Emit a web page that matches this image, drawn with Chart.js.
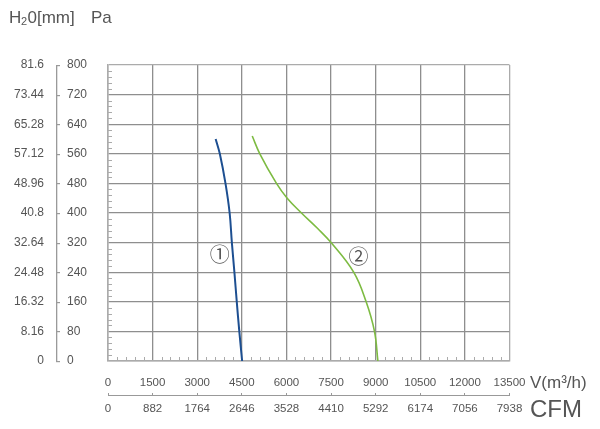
<!DOCTYPE html>
<html>
<head>
<meta charset="utf-8">
<script src="https://cdn.jsdelivr.net/npm/chart.js@4"></script>
<style>
  html, body { margin: 0; padding: 0; background: #fff; }
  #wrap { width: 600px; height: 429px; }
</style>
</head>
<body>
<div id="wrap"><canvas id="curva" width="600" height="429"></canvas></div>
<script>
// tick labels
const paTicks = [0, 80, 160, 240, 320, 400, 480, 560, 640, 720, 800];
const mmTicks = ["0", "8.16", "16.32", "24.48", "32.64", "40.8", "48.96", "57.12", "65.28", "73.44", "81.6"];
const flowTicks = [0, 1500, 3000, 4500, 6000, 7500, 9000, 10500, 12000, 13500];
const cfmTicks = [0, 882, 1764, 2646, 3528, 4410, 5292, 6174, 7056, 7938];

// curve 1 (blue)
const flow1 = [3620, 3760, 3950, 4090, 4165, 4250, 4330, 4415, 4510];
const press1 = [600, 560, 480, 400, 320, 240, 160, 80, 0];
// curve 2 (green)
const flow2 = [4850, 5105, 5665, 6025, 6505, 7050, 7500, 8260, 8680, 8960, 9075];
const press2 = [608, 560, 480, 440, 400, 358, 320, 240, 160, 80, 0];

const curveNames = ["①", "②"];

const FONT = "'Liberation Sans', Arial, sans-serif";
const TXT = "#555";
const GRID = "#8e8e8e";
const FRAME = "#ababab";

function pontos(xs, ys) {
  return xs.map((x, i) => ({ x: x, y: ys[i] }));
}

// labels, decorative bracket, minor ticks
const extras = {
  id: "extras",
  afterDraw(chart) {
    const ctx = chart.ctx;
    const a = chart.chartArea;
    const sx = chart.scales.x;
    const sy = chart.scales.y;
    ctx.save();

    // minor ticks inside the frame
    ctx.strokeStyle = FRAME;
    ctx.lineWidth = 1;
    ctx.beginPath();
    for (let i = 0; i < paTicks.length - 1; i++) {
      const step = (paTicks[i + 1] - paTicks[i]) / 5;
      for (let k = 1; k < 5; k++) {
        const py = Math.round(sy.getPixelForValue(paTicks[i] + k * step)) + 0.5;
        ctx.moveTo(a.left, py);
        ctx.lineTo(a.left + 4, py);
      }
    }
    for (let i = 0; i < flowTicks.length - 1; i++) {
      const step = (flowTicks[i + 1] - flowTicks[i]) / 5;
      for (let k = 1; k < 5; k++) {
        const px = Math.round(sx.getPixelForValue(flowTicks[i] + k * step)) + 0.5;
        ctx.moveTo(px, a.bottom);
        ctx.lineTo(px, a.bottom - 4);
      }
    }
    ctx.stroke();

    // Pa bracket: vertical line with short ticks to the right
    const bx = 56;
    const yTop = Math.round(sy.getPixelForValue(800));
    const yBot = Math.round(sy.getPixelForValue(0));
    ctx.fillStyle = "#9a9a9a";
    ctx.fillRect(bx, yTop, 1.3, yBot - yTop + 1);
    paTicks.forEach(v => {
      const py = Math.round(sy.getPixelForValue(v));
      ctx.fillRect(bx, py, 4, 1.2);
    });

    // titles
    ctx.fillStyle = TXT;
    ctx.textBaseline = "middle";
    ctx.textAlign = "left";
    ctx.font = "17px " + FONT;
    ctx.fillText("H", 9, 18);
    ctx.font = "11px " + FONT;
    ctx.fillText("2", 21, 22);
    ctx.font = "17px " + FONT;
    ctx.fillText("0[mm]", 27.5, 18);
    ctx.fillText("Pa", 91, 18);

    ctx.font = "17px " + FONT;
    ctx.fillText("V(m³/h)", 530, 383);
    ctx.font = "24px " + FONT;
    ctx.fillText("CFM", 530, 410);

    // curve numbers
    ctx.textAlign = "center";
    ctx.font = "20px 'Noto Sans CJK SC', 'DejaVu Sans', sans-serif";
    ctx.fillText(curveNames[0], sx.getPixelForValue(3755), sy.getPixelForValue(288));
    ctx.fillText(curveNames[1], sx.getPixelForValue(8426), sy.getPixelForValue(284));
    ctx.restore();
  }
};

const gridColorX = c => (c.tick && c.tick.value === 13500 ? FRAME : GRID);
const gridColorY = c => (c.tick && c.tick.value === 800 ? FRAME : GRID);

new Chart(document.getElementById("curva"), {
  type: "line",
  data: {
    datasets: [
      {
        label: "1",
        data: pontos(flow1, press1),
        borderColor: "#1d4f91",
        borderWidth: 2,
        pointRadius: 0,
        tension: 0.4,
        fill: false
      },
      {
        label: "2",
        data: pontos(flow2, press2),
        borderColor: "#7dbb42",
        borderWidth: 1.6,
        pointRadius: 0,
        tension: 0.4,
        fill: false
      }
    ]
  },
  options: {
    responsive: false,
    animation: false,
    events: [],
    layout: { padding: { left: 0, top: 65, right: 90.5, bottom: 0 } },
    plugins: {
      legend: { display: false },
      tooltip: { enabled: false }
    },
    scales: {
      x: {
        type: "linear",
        position: "bottom",
        weight: 0,
        min: 0,
        max: 13500,
        ticks: {
          stepSize: 1500,
          padding: 15.2,
          color: TXT,
          font: { family: FONT, size: 11.5 },
          maxRotation: 0,
          autoSkip: false,
          callback: (v, i) => flowTicks[i]
        },
        grid: { color: gridColorX, lineWidth: 1.3, drawTicks: false },
        border: { color: FRAME, width: 1.5 },
        afterFit: s => { s.height = 34; }
      },
      x2: {
        type: "linear",
        position: "bottom",
        weight: 1,
        min: 0,
        max: 13500,
        ticks: {
          stepSize: 1500,
          padding: 9.2,
          color: TXT,
          font: { family: FONT, size: 11.5 },
          maxRotation: 0,
          autoSkip: false,
          callback: (v, i) => cfmTicks[i]
        },
        grid: { color: "#999", drawOnChartArea: false, drawTicks: true, tickLength: -2 },
        border: { color: "#999" },
        afterFit: s => { s.height = 34; }
      },
      y: {
        position: "left",
        weight: 0,
        min: 0,
        max: 800,
        ticks: {
          stepSize: 80,
          padding: 21,
          crossAlign: "far",
          color: TXT,
          font: { family: FONT, size: 12 },
          autoSkip: false,
          callback: (v, i) => paTicks[i]
        },
        grid: { color: gridColorY, lineWidth: 1.3, drawTicks: false },
        border: { color: FRAME, width: 1.5 },
        afterFit: s => { s.width = 41; }
      },
      y2: {
        position: "left",
        weight: 1,
        min: 0,
        max: 800,
        ticks: {
          stepSize: 80,
          padding: 23,
          crossAlign: "near",
          color: TXT,
          font: { family: FONT, size: 12 },
          autoSkip: false,
          callback: (v, i) => mmTicks[i]
        },
        grid: { display: false, drawTicks: false },
        border: { display: false },
        afterFit: s => { s.width = 67; }
      }
    }
  },
  plugins: [extras]
});
</script>
</body>
</html>
